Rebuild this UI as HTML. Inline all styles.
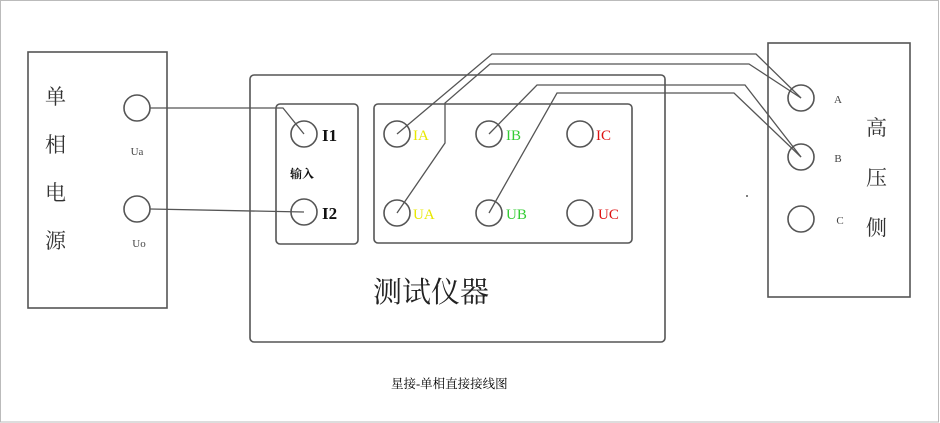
<!DOCTYPE html>
<html><head><meta charset="utf-8"><style>
body{margin:0;background:#fff}
svg{display:block}
text{font-family:"Liberation Serif","Noto Serif CJK SC",serif}
</style></head><body>
<svg width="940" height="423" viewBox="0 0 940 423" xmlns="http://www.w3.org/2000/svg">
<rect x="0.5" y="0.5" width="938" height="421.5" fill="#fff" stroke="#bbb" stroke-width="1"/>
<g fill="none" stroke="#555" stroke-width="1.6">
<rect x="28" y="52" width="139" height="256"/>
<rect x="250" y="75" width="415" height="267" rx="4"/>
<rect x="276" y="104" width="82" height="140" rx="4"/>
<rect x="374" y="104" width="258" height="139" rx="4"/>
<rect x="768" y="43" width="142" height="254"/>
<circle cx="137" cy="108" r="13"/>
<circle cx="137" cy="209" r="13"/>
<circle cx="304" cy="134" r="13"/>
<circle cx="304" cy="212" r="13"/>
<circle cx="397" cy="134" r="13"/>
<circle cx="489" cy="134" r="13"/>
<circle cx="580" cy="134" r="13"/>
<circle cx="397" cy="213" r="13"/>
<circle cx="489" cy="213" r="13"/>
<circle cx="580" cy="213" r="13"/>
<circle cx="801" cy="98" r="13"/>
<circle cx="801" cy="157" r="13"/>
<circle cx="801" cy="219" r="13"/>
</g>
<g fill="none" stroke="#555" stroke-width="1.3">
<polyline points="150,108 283,108 304,134"/>
<polyline points="150,209 304,212"/>
<polyline points="397,134 492,54 756,54 801,98"/>
<polyline points="397,213 445,143 445,103 490,64 749,64 801,98"/>
<polyline points="489,134 537,85 745,85 801,157"/>
<polyline points="489,213 557,93 734,93 801,157"/>
</g>
<circle cx="747" cy="196" r="1" fill="#555"/>
<g font-size="21" fill="#333">
<text x="45" y="104">单</text>
<text x="45" y="152">相</text>
<text x="45" y="200">电</text>
<text x="45" y="248">源</text>
<text x="866" y="135">高</text>
<text x="866" y="185">压</text>
<text x="866" y="235">侧</text>
</g>
<g font-size="11" fill="#444" text-anchor="middle">
<text x="137" y="155">Ua</text>
<text x="139" y="247">Uo</text>
<text x="838" y="103">A</text>
<text x="838" y="162">B</text>
<text x="840" y="224">C</text>
</g>
<g font-size="17" font-weight="bold" fill="#111">
<text x="322" y="141">I1</text>
<text x="322" y="219">I2</text>
</g>
<text x="290" y="178" font-size="12" font-weight="bold" fill="#111" font-family="Liberation Sans,'Noto Sans CJK SC',sans-serif">输入</text>
<g font-size="15">
<text x="413" y="140" fill="#e8e800">IA</text>
<text x="506" y="140" fill="#33cc33">IB</text>
<text x="596" y="140" fill="#dd1111">IC</text>
<text x="413" y="219" fill="#e8e800">UA</text>
<text x="506" y="219" fill="#33cc33">UB</text>
<text x="598" y="219" fill="#dd1111">UC</text>
</g>
<text x="373" y="302" font-size="29" fill="#222">测试仪器</text>
<text x="391" y="388" font-size="12.5" fill="#000" font-family="Liberation Sans,'Noto Sans CJK SC',sans-serif">星接-单相直接接线图</text>
</svg>
</body></html>
